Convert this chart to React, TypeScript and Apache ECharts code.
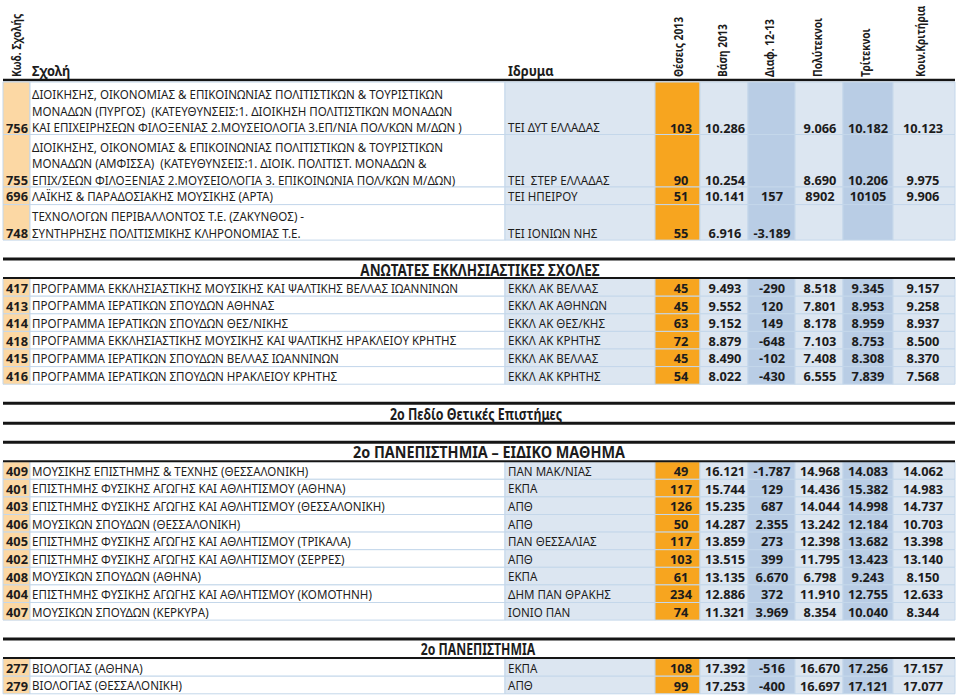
import { useEffect, useRef } from 'react';
import * as echarts from 'echarts';

// ---------------- data ----------------
const headerCode = 'Κωδ. Σχολής';
const headerSchool = 'Σχολή';
const headerInst = 'Ιδρυμα';
const headerCols = ['Θέσεις 2013', 'Βάση 2013', 'Διαφ. 12-13', 'Πολύτεκνοι', 'Τρίτεκνοι', 'Κοιν.Κριτήρια'];

const sectionTitles = ['', 'ΑΝΩΤΑΤΕΣ ΕΚΚΛΗΣΙΑΣΤΙΚΕΣ ΣΧΟΛΕΣ', '2ο ΠΑΝΕΠΙΣΤΗΜΙΑ – ΕΙΔΙΚΟ ΜΑΘΗΜΑ', '2ο ΠΑΝΕΠΙΣΤΗΜΙΑ'];
const fieldBanner = '2ο Πεδίο Θετικές Επιστήμες';
const fieldBannerBeforeSection = 2;

const rowSection = [0, 0, 0, 0, 1, 1, 1, 1, 1, 1, 2, 2, 2, 2, 2, 2, 2, 2, 2, 3, 3];
const codes = ['756', '755', '696', '748', '417', '413', '414', '418', '415', '416', '409', '401', '403', '406', '405', '402', '408', '404', '407', '277', '279'];
const schools = [
  'ΔΙΟΙΚΗΣΗΣ, ΟΙΚΟΝΟΜΙΑΣ & ΕΠΙΚΟΙΝΩΝΙΑΣ ΠΟΛΙΤΙΣΤΙΚΩΝ & ΤΟΥΡΙΣΤΙΚΩΝ\nΜΟΝΑΔΩΝ (ΠΥΡΓΟΣ)  (ΚΑΤΕΥΘΥΝΣΕΙΣ:1. ΔΙΟΙΚΗΣΗ ΠΟΛΙΤΙΣΤΙΚΩΝ ΜΟΝΑΔΩΝ\nΚΑΙ ΕΠΙΧΕΙΡΗΣΕΩΝ ΦΙΛΟΞΕΝΙΑΣ 2.ΜΟΥΣΕΙΟΛΟΓΙΑ 3.ΕΠ/ΝΙΑ ΠΟΛ/ΚΩΝ Μ/ΔΩΝ )',
  'ΔΙΟΙΚΗΣΗΣ, ΟΙΚΟΝΟΜΙΑΣ & ΕΠΙΚΟΙΝΩΝΙΑΣ ΠΟΛΙΤΙΣΤΙΚΩΝ & ΤΟΥΡΙΣΤΙΚΩΝ\nΜΟΝΑΔΩΝ (ΑΜΦΙΣΣΑ)  (ΚΑΤΕΥΘΥΝΣΕΙΣ:1. ΔΙΟΙΚ. ΠΟΛΙΤΙΣΤ. ΜΟΝΑΔΩΝ &\nΕΠΙΧ/ΣΕΩΝ ΦΙΛΟΞΕΝΙΑΣ 2.ΜΟΥΣΕΙΟΛΟΓΙΑ 3. ΕΠΙΚΟΙΝΩΝΙΑ ΠΟΛ/ΚΩΝ Μ/ΔΩΝ)',
  'ΛΑΪΚΗΣ & ΠΑΡΑΔΟΣΙΑΚΗΣ ΜΟΥΣΙΚΗΣ (ΑΡΤΑ)',
  'ΤΕΧΝΟΛΟΓΩΝ ΠΕΡΙΒΑΛΛΟΝΤΟΣ Τ.Ε. (ΖΑΚΥΝΘΟΣ) -\nΣΥΝΤΗΡΗΣΗΣ ΠΟΛΙΤΙΣΜΙΚΗΣ ΚΛΗΡΟΝΟΜΙΑΣ Τ.Ε.',
  'ΠΡΟΓΡΑΜΜΑ ΕΚΚΛΗΣΙΑΣΤΙΚΗΣ ΜΟΥΣΙΚΗΣ ΚΑΙ ΨΑΛΤΙΚΗΣ ΒΕΛΛΑΣ ΙΩΑΝΝΙΝΩΝ',
  'ΠΡΟΓΡΑΜΜΑ ΙΕΡΑΤΙΚΩΝ ΣΠΟΥΔΩΝ ΑΘΗΝΑΣ',
  'ΠΡΟΓΡΑΜΜΑ ΙΕΡΑΤΙΚΩΝ ΣΠΟΥΔΩΝ ΘΕΣ/ΝΙΚΗΣ',
  'ΠΡΟΓΡΑΜΜΑ ΕΚΚΛΗΣΙΑΣΤΙΚΗΣ ΜΟΥΣΙΚΗΣ ΚΑΙ ΨΑΛΤΙΚΗΣ ΗΡΑΚΛΕΙΟΥ ΚΡΗΤΗΣ',
  'ΠΡΟΓΡΑΜΜΑ ΙΕΡΑΤΙΚΩΝ ΣΠΟΥΔΩΝ ΒΕΛΛΑΣ ΙΩΑΝΝΙΝΩΝ',
  'ΠΡΟΓΡΑΜΜΑ ΙΕΡΑΤΙΚΩΝ ΣΠΟΥΔΩΝ ΗΡΑΚΛΕΙΟΥ ΚΡΗΤΗΣ',
  'ΜΟΥΣΙΚΗΣ ΕΠΙΣΤΗΜΗΣ & ΤΕΧΝΗΣ (ΘΕΣΣΑΛΟΝΙΚΗ)',
  'ΕΠΙΣΤΗΜΗΣ ΦΥΣΙΚΗΣ ΑΓΩΓΗΣ ΚΑΙ ΑΘΛΗΤΙΣΜΟΥ (ΑΘΗΝΑ)',
  'ΕΠΙΣΤΗΜΗΣ ΦΥΣΙΚΗΣ ΑΓΩΓΗΣ ΚΑΙ ΑΘΛΗΤΙΣΜΟΥ (ΘΕΣΣΑΛΟΝΙΚΗ)',
  'ΜΟΥΣΙΚΩΝ ΣΠΟΥΔΩΝ (ΘΕΣΣΑΛΟΝΙΚΗ)',
  'ΕΠΙΣΤΗΜΗΣ ΦΥΣΙΚΗΣ ΑΓΩΓΗΣ ΚΑΙ ΑΘΛΗΤΙΣΜΟΥ (ΤΡΙΚΑΛΑ)',
  'ΕΠΙΣΤΗΜΗΣ ΦΥΣΙΚΗΣ ΑΓΩΓΗΣ ΚΑΙ ΑΘΛΗΤΙΣΜΟΥ (ΣΕΡΡΕΣ)',
  'ΜΟΥΣΙΚΩΝ ΣΠΟΥΔΩΝ (ΑΘΗΝΑ)',
  'ΕΠΙΣΤΗΜΗΣ ΦΥΣΙΚΗΣ ΑΓΩΓΗΣ ΚΑΙ ΑΘΛΗΤΙΣΜΟΥ (ΚΟΜΟΤΗΝΗ)',
  'ΜΟΥΣΙΚΩΝ ΣΠΟΥΔΩΝ (ΚΕΡΚΥΡΑ)',
  'ΒΙΟΛΟΓΙΑΣ (ΑΘΗΝΑ)',
  'ΒΙΟΛΟΓΙΑΣ (ΘΕΣΣΑΛΟΝΙΚΗ)',
];
const institutions = ['ΤΕΙ ΔΥΤ ΕΛΛΑΔΑΣ', 'ΤΕΙ  ΣΤΕΡ ΕΛΛΑΔΑΣ', 'ΤΕΙ ΗΠΕΙΡΟΥ', 'ΤΕΙ ΙΟΝΙΩΝ ΝΗΣ', 'ΕΚΚΛ ΑΚ ΒΕΛΛΑΣ', 'ΕΚΚΛ ΑΚ ΑΘΗΝΩΝ', 'ΕΚΚΛ ΑΚ ΘΕΣ/ΚΗΣ', 'ΕΚΚΛ ΑΚ ΚΡΗΤΗΣ', 'ΕΚΚΛ ΑΚ ΒΕΛΛΑΣ', 'ΕΚΚΛ ΑΚ ΚΡΗΤΗΣ', 'ΠΑΝ ΜΑΚ/ΝΙΑΣ', 'ΕΚΠΑ', 'ΑΠΘ', 'ΑΠΘ', 'ΠΑΝ ΘΕΣΣΑΛΙΑΣ', 'ΑΠΘ', 'ΕΚΠΑ', 'ΔΗΜ ΠΑΝ ΘΡΑΚΗΣ', 'ΙΟΝΙΟ ΠΑΝ', 'ΕΚΠΑ', 'ΑΠΘ'];
const seats2013 = ['103', '90', '51', '55', '45', '45', '63', '72', '45', '54', '49', '117', '126', '50', '117', '103', '61', '234', '74', '108', '99'];
const base2013 = ['10.286', '10.254', '10.141', '6.916', '9.493', '9.552', '9.152', '8.879', '8.490', '8.022', '16.121', '15.744', '15.235', '14.287', '13.859', '13.515', '13.135', '12.886', '11.321', '17.392', '17.253'];
const diff1213 = ['', '', '157', '-3.189', '-290', '120', '149', '-648', '-102', '-430', '-1.787', '129', '687', '2.355', '273', '399', '6.670', '372', '3.969', '-516', '-400'];
const polyteknoi = ['9.066', '8.690', '8902', '', '8.518', '7.801', '8.178', '7.103', '7.408', '6.555', '14.968', '14.436', '14.044', '13.242', '12.398', '11.795', '6.798', '11.910', '8.354', '16.670', '16.697'];
const triteknoi = ['10.182', '10.206', '10105', '', '9.345', '8.953', '8.959', '8.753', '8.308', '7.839', '14.083', '15.382', '14.998', '12.184', '13.682', '13.423', '9.243', '12.755', '10.040', '17.256', '17.121'];
const koinaKritiria = ['10.123', '9.975', '9.906', '', '9.157', '9.258', '8.937', '8.500', '8.370', '7.568', '14.062', '14.983', '14.737', '10.703', '13.398', '13.140', '8.150', '12.633', '8.344', '17.157', '17.077'];

// ---------------- layout / style ----------------
const FONT = '"Noto Sans", "DejaVu Sans", sans-serif';
const INK = '#1c1c1c';
const COL_EDGES = [3, 30, 505, 655, 700, 748, 795, 843, 893, 955];
const COL_FILLS = ['#fcd8a4', '#ffffff', '#dce6f1', '#f7a51f', '#dce6f1', '#b9cde5', '#dce6f1', '#b9cde5', '#dce6f1'];
const NUM_CENTERS = [681, 725, 772, 820, 868, 923];
const ROW_H = 17.6;
const LINE_H = 16.5;
const BODY_FS = 13;
const TXT_SX = 0.89;
const NUM_FS = 12.8;
const TITLE_FS = 15.5;
const HEAD_FS = 12.8;
const HEAD_ROT_SX = 0.8;
// per section-title horizontal centre and compression (index = section; banner separately)
const TITLE_CX = [480, 480, 489, 478];
const TITLE_SX = [0.85, 0.87, 0.93, 0.79];
const BANNER_CX = 476;
const BANNER_SX = 0.8;

function buildLayout() {
  const rowTop: number[] = [];
  const rowH: number[] = [];
  const blocks: { kind: string; y: number; text: string; cx: number; sx: number }[] = [];
  let y = 82;
  let prev = 0;
  for (let i = 0; i < codes.length; i++) {
    const s = rowSection[i];
    if (s !== prev) {
      y += 19;
      if (s === fieldBannerBeforeSection) {
        blocks.push({ kind: 'banner', y, text: fieldBanner, cx: BANNER_CX, sx: BANNER_SX });
        y += 20 + 19;
      }
      blocks.push({ kind: 'title', y, text: sectionTitles[s], cx: TITLE_CX[s], sx: TITLE_SX[s] });
      y += 19.5;
      prev = s;
    }
    const n = schools[i].split('\n').length;
    const h = n === 1 ? ROW_H : n * 17 + 1.5;
    rowTop.push(y);
    rowH.push(h);
    y += h;
  }
  return { rowTop, rowH, blocks };
}

const L = buildLayout();

function txt(p: number[], text: string, o: any = {}) {
  return {
    type: 'text',
    x: p[0],
    y: p[1],
    scaleX: o.sx ?? 1,
    rotation: o.rot ?? 0,
    style: {
      text,
      fill: o.fill ?? INK,
      fontSize: o.fs ?? BODY_FS,
      fontFamily: FONT,
      fontWeight: o.bold ? 'bold' : 'normal',
      align: o.align ?? 'left',
      verticalAlign: 'middle',
    },
  };
}

function hline(api: any, x0: number, x1: number, y: number, w: number) {
  const a = api.coord([x0, y]);
  const b = api.coord([x1, y]);
  return { type: 'line', shape: { x1: a[0], y1: a[1], x2: b[0], y2: b[1] }, style: { stroke: '#151515', lineWidth: w } };
}

function renderRow(_params: any, api: any) {
  const i = api.value(0) as number;
  const top = L.rowTop[i];
  const h = L.rowH[i];
  const bottom = top + h;
  const children: any[] = [];
  for (let c = 0; c < COL_FILLS.length; c++) {
    const a = api.coord([COL_EDGES[c], top]);
    const b = api.coord([COL_EDGES[c + 1], bottom]);
    children.push({
      type: 'rect',
      shape: { x: a[0], y: a[1], width: b[0] - a[0], height: b[1] - a[1] },
      style: { fill: COL_FILLS[c], stroke: '#c4d7ea', lineWidth: 1 },
    });
  }
  const lines = schools[i].split('\n');
  const n = lines.length;
  const lastY = n === 1 ? top + h / 2 + 0.5 : bottom - 7;
  lines.forEach((t, k) => {
    children.push(txt(api.coord([32, lastY - (n - 1 - k) * LINE_H]), t, { sx: TXT_SX }));
  });
  children.push(txt(api.coord([17, lastY]), codes[i], { bold: true, align: 'center', fs: NUM_FS }));
  children.push(txt(api.coord([508, lastY]), institutions[i], { sx: TXT_SX }));
  const nums = [seats2013[i], base2013[i], diff1213[i], polyteknoi[i], triteknoi[i], koinaKritiria[i]];
  nums.forEach((v, k) => {
    if (v) children.push(txt(api.coord([NUM_CENTERS[k], lastY]), v, { bold: true, align: 'center', fs: NUM_FS }));
  });
  return { type: 'group', children };
}

function renderBlock(_params: any, api: any) {
  const b = L.blocks[api.value(0) as number];
  const children: any[] = [];
  if (b.kind === 'banner') {
    children.push(hline(api, 3, 955, b.y, 3));
    children.push(hline(api, 3, 955, b.y + 20, 3));
    children.push(txt(api.coord([b.cx, b.y + 10.5]), b.text, { bold: true, fs: TITLE_FS, sx: b.sx, align: 'center' }));
  } else {
    children.push(hline(api, 3, 955, b.y, 3));
    children.push(hline(api, 3, 955, b.y + 19, 2));
    children.push(txt(api.coord([b.cx, b.y + 10]), b.text, { bold: true, fs: TITLE_FS, sx: b.sx, align: 'center' }));
  }
  return { type: 'group', children };
}

function renderHeader(_params: any, api: any) {
  const children: any[] = [];
  children.push(hline(api, 3, 955, 80, 2.5));
  children.push(txt(api.coord([16, 77]), headerCode, { bold: true, rot: Math.PI / 2, sx: HEAD_ROT_SX, fs: HEAD_FS }));
  children.push(txt(api.coord([32, 71]), headerSchool, { bold: true, sx: 0.95, fs: 13.5 }));
  children.push(txt(api.coord([508, 71]), headerInst, { bold: true, sx: 0.95, fs: 13.5 }));
  headerCols.forEach((t, k) => {
    children.push(txt(api.coord([NUM_CENTERS[k] - 3, 77]), t, { bold: true, rot: Math.PI / 2, sx: HEAD_ROT_SX, fs: HEAD_FS }));
  });
  return { type: 'group', children };
}

export default function App() {
  const ref = useRef<HTMLDivElement>(null);
  useEffect(() => {
    if (!ref.current) return;
    const chart = echarts.init(ref.current, null, { renderer: 'svg' });
    chart.setOption({
      animation: false,
      backgroundColor: '#ffffff',
      grid: { left: 0, right: 0, top: 0, bottom: 0 },
      xAxis: { type: 'value', min: 0, max: 960, show: false },
      yAxis: { type: 'value', min: 0, max: 700, inverse: true, show: false },
      series: [
        { type: 'custom', name: 'header', coordinateSystem: 'cartesian2d', data: [[0, 0]], renderItem: renderHeader, clip: false, silent: true },
        { type: 'custom', name: 'rows', coordinateSystem: 'cartesian2d', data: codes.map((_, i) => [i, 0]), renderItem: renderRow, clip: false, silent: true },
        { type: 'custom', name: 'sections', coordinateSystem: 'cartesian2d', data: L.blocks.map((_, i) => [i, 0]), renderItem: renderBlock, clip: false, silent: true },
      ],
    });
    return () => chart.dispose();
  }, []);
  return <div ref={ref} style={{ position: 'absolute', left: 0, top: 0, width: 960, height: 700 }} />;
}
